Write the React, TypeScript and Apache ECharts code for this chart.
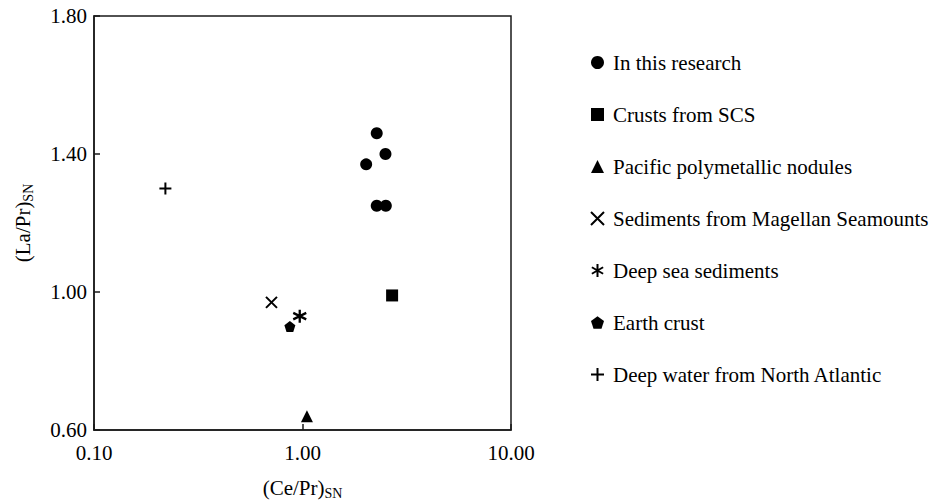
import React, { useEffect, useRef } from "react";
import * as echarts from "echarts";

// (Ce/Pr)SN vs (La/Pr)SN for each sample group
const researchX = [2.27, 2.5, 2.02, 2.27, 2.51];
const researchY = [1.46, 1.4, 1.37, 1.25, 1.25];
const crustsScsX = [2.69];
const crustsScsY = [0.99];
const pacificNodulesX = [1.05];
const pacificNodulesY = [0.64];
const magellanX = [0.71];
const magellanY = [0.97];
const deepSeaX = [0.97];
const deepSeaY = [0.93];
const earthCrustX = [0.87];
const earthCrustY = [0.9];
const atlanticX = [0.22];
const atlanticY = [1.3];

const seriesNames = [
  "In this research",
  "Crusts from SCS",
  "Pacific polymetallic nodules",
  "Sediments from Magellan Seamounts",
  "Deep sea sediments",
  "Earth crust",
  "Deep water from North Atlantic",
];

const xTicks = [0.1, 1, 10];
const yTicks = [0.6, 1.0, 1.4, 1.8];

const FONT = "'Liberation Serif', 'Times New Roman', serif";
const INK = "#000";
const FRAME = "#1a1a1a";

const pairs = (xs: number[], ys: number[]) => xs.map((x, i) => [x, ys[i]]);

// stroke-drawn glyphs
const crossPath = "path://M0 0 L10 10 M10 0 L0 10";
const asteriskPath = "path://M5 0 L5 10 M0.67 2.5 L9.33 7.5 M9.33 2.5 L0.67 7.5";
const plusPath = "path://M5 0 L5 10 M0 5 L10 5";
const pentagonPath =
  "path://M5 0 L9.76 3.45 L7.94 9.05 L2.06 9.05 L0.24 3.45 Z";

export default function App() {
  const ref = useRef<HTMLDivElement>(null);

  useEffect(() => {
    document.body.style.margin = "0";
    const chart = echarts.init(ref.current!, null, { renderer: "svg" });

    const filled = { color: INK, opacity: 1 };
    const stroked = {
      color: "rgba(0,0,0,0)",
      borderColor: INK,
      borderWidth: 2,
      opacity: 1,
    };

    const mk = (
      name: string,
      xs: number[],
      ys: number[],
      symbol: string,
      size: number,
      style: any
    ) => ({
      name,
      type: "scatter",
      data: pairs(xs, ys),
      symbol,
      symbolSize: size,
      itemStyle: style,
      emphasis: { disabled: true },
    });

    const nameRich = {
      a: { fontFamily: FONT, fontSize: 21, color: INK },
      b: { fontFamily: FONT, fontSize: 14, color: INK, padding: [10, 0, 0, 0] },
    };

    chart.setOption({
      animation: false,
      textStyle: { fontFamily: FONT },
      grid: {
        left: 94,
        top: 16,
        width: 417,
        height: 414,
        show: true,
        borderColor: FRAME,
        borderWidth: 1.5,
        outerBoundsMode: "none",
        containLabel: false,
      },
      legend: {
        orient: "vertical",
        left: 585,
        top: 47,
        itemGap: 31,
        itemWidth: 13,
        itemHeight: 13,
        selectedMode: false,
        data: seriesNames,
        textStyle: {
          fontFamily: FONT,
          fontSize: 21,
          color: INK,
          padding: [0, 0, 0, 4],
        },
      },
      xAxis: {
        type: "log",
        logBase: 10,
        min: xTicks[0],
        max: xTicks[xTicks.length - 1],
        name: "{a|(Ce/Pr)}{b|SN}",
        nameLocation: "middle",
        nameGap: 46,
        nameTextStyle: { rich: nameRich },
        axisLine: { show: true, lineStyle: { color: FRAME, width: 1.5 } },
        axisTick: { show: true, inside: true, length: 6, lineStyle: { color: FRAME, width: 1.5 } },
        minorTick: { show: false },
        splitLine: { show: false },
        axisLabel: {
          fontFamily: FONT,
          fontSize: 21,
          color: INK,
          margin: 12,
          formatter: (v: number) => v.toFixed(2),
        },
      },
      yAxis: {
        type: "value",
        min: yTicks[0],
        max: yTicks[yTicks.length - 1],
        interval: 0.4,
        name: "{a|(La/Pr)}{b|SN}",
        nameLocation: "middle",
        nameRotate: 90,
        nameGap: 59,
        nameTextStyle: { rich: nameRich },
        axisLine: { show: true, lineStyle: { color: FRAME, width: 1.5 } },
        axisTick: { show: true, inside: true, length: 6, lineStyle: { color: FRAME, width: 1.5 } },
        splitLine: { show: false },
        axisLabel: {
          fontFamily: FONT,
          fontSize: 21,
          color: INK,
          margin: 7,
          formatter: (v: number) => v.toFixed(2),
        },
      },
      series: [
        mk(seriesNames[0], researchX, researchY, "circle", 12, filled),
        mk(seriesNames[1], crustsScsX, crustsScsY, "rect", 12, filled),
        mk(seriesNames[2], pacificNodulesX, pacificNodulesY, "triangle", 12, filled),
        mk(seriesNames[3], magellanX, magellanY, crossPath, 11, stroked),
        mk(seriesNames[4], deepSeaX, deepSeaY, asteriskPath, 13, { ...stroked, borderWidth: 2.3 }),
        mk(seriesNames[5], earthCrustX, earthCrustY, pentagonPath, 11, filled),
        mk(seriesNames[6], atlanticX, atlanticY, plusPath, 12, stroked),
      ],
    });

    return () => chart.dispose();
  }, []);

  return <div ref={ref} style={{ width: 935, height: 504 }} />;
}
